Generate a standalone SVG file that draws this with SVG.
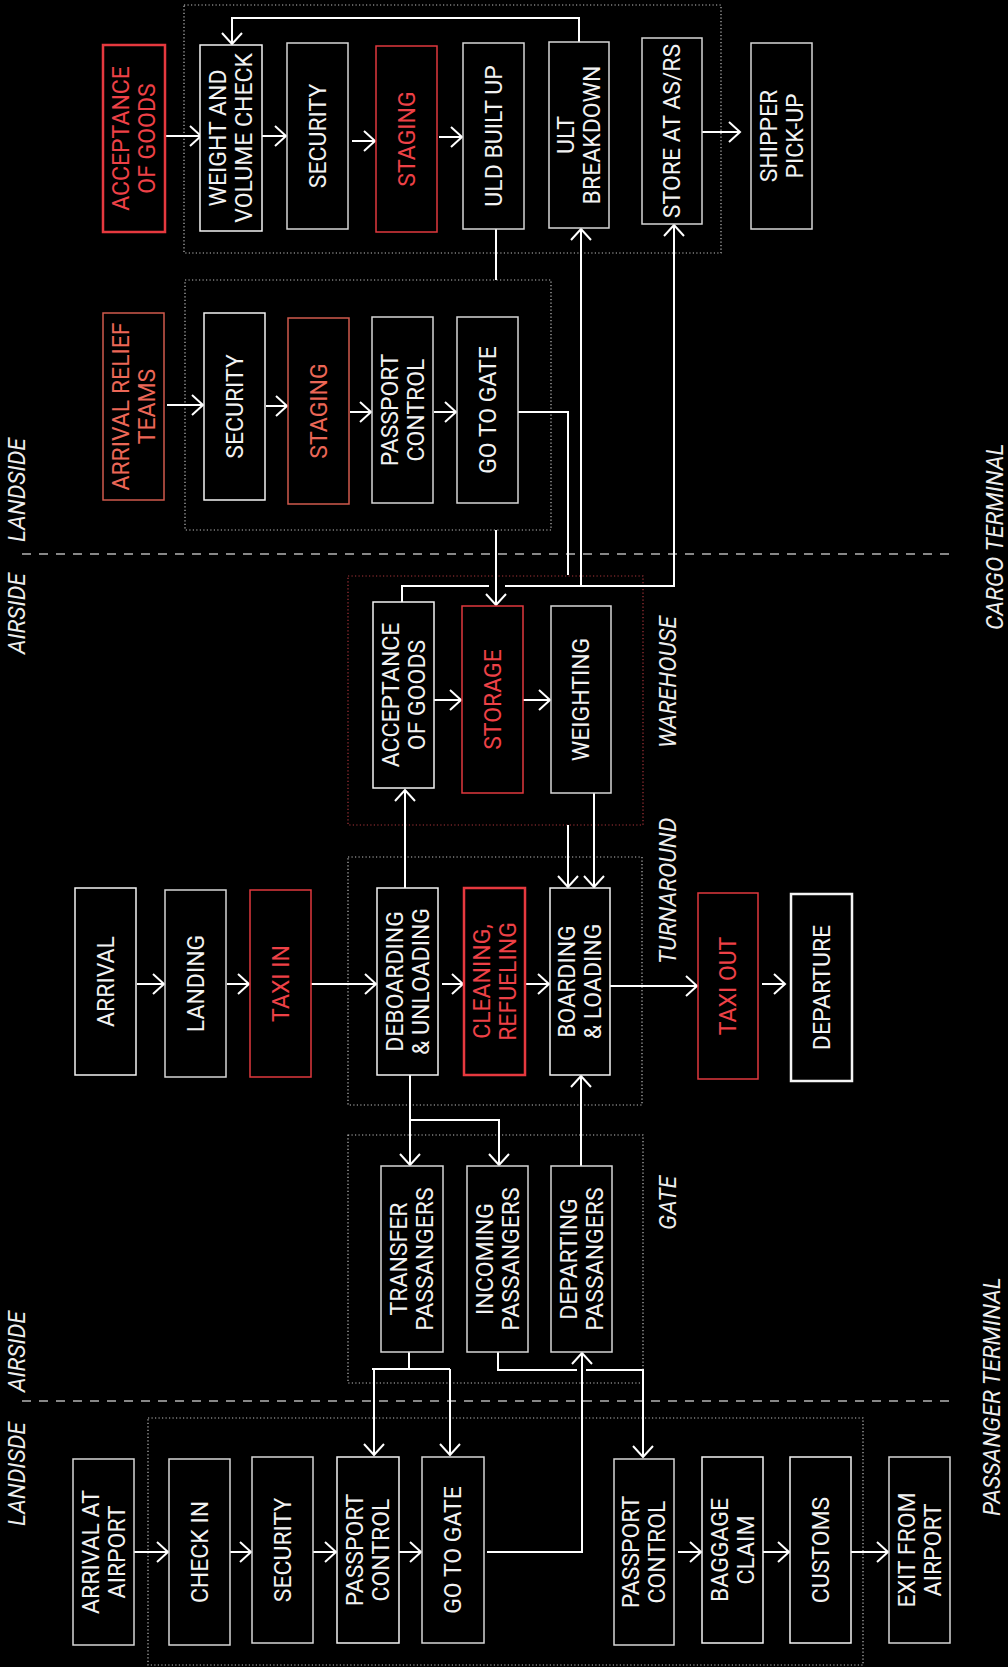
<svg xmlns="http://www.w3.org/2000/svg" width="1008" height="1667" viewBox="0 0 1008 1667">
<defs>
<style>
.bg{fill:#000}
rect.n{fill:#000;stroke:#d6d6d6;stroke-width:1.5}
rect.w{stroke:#f4f4f4}
rect.red{stroke:#e0383e}
rect.red2{stroke:#e6393f;stroke-width:2.5}
rect.sal{stroke:#cf5a4c}
rect.dep{stroke:#f4f4f4;stroke-width:2.5}
text{font-family:Roboto,"Liberation Sans",Arial,sans-serif;font-size:23px;fill:#f2f2f2;text-anchor:middle}
text.rt{fill:#ee4147}
text.st{fill:#ec6757}
text.lab{font-style:italic;font-size:23px;text-anchor:start;fill:#eeeeee}
.zone{fill:none;stroke:#bdbdbd;stroke-width:1.2;stroke-dasharray:1.2 2.3}
.zone.redz{stroke:#a8343a}
.c{fill:none;stroke:#fff;stroke-width:2}
.dash{fill:none;stroke:#b4b4b4;stroke-width:1.6;stroke-dasharray:9 8}
</style>
<marker id="ah" viewBox="-14 -12 16 24" refX="0" refY="0" markerWidth="16" markerHeight="24" markerUnits="userSpaceOnUse" orient="auto">
<path d="M-11,-10 L0,0 L-11,10" fill="none" stroke="#fff" stroke-width="2"/>
</marker>
</defs>
<rect class="bg" x="0" y="0" width="1008" height="1667"/>

<g id="zones">
<rect class="zone" x="184" y="5" width="537" height="248"/>
<rect class="zone" x="185" y="280" width="366" height="250"/>
<rect class="zone redz" x="348" y="576" width="295" height="249"/>
<rect class="zone" x="348" y="857" width="294" height="248"/>
<rect class="zone" x="348" y="1135" width="295" height="248"/>
<rect class="zone" x="148" y="1418" width="715" height="247"/>
<line class="dash" x1="22" y1="554" x2="950" y2="554"/>
<line class="dash" x1="22" y1="1401" x2="950" y2="1401"/>
</g>

<g id="labels">
<text class="lab" transform="translate(25,654) rotate(-90)">AIRSIDE</text>
<text class="lab" transform="translate(25,542) rotate(-90)">LANDSIDE</text>
<text class="lab" transform="translate(25,1392) rotate(-90)">AIRSIDE</text>
<text class="lab" transform="translate(25,1526) rotate(-90)">LANDISDE</text>
<text class="lab" transform="translate(1003,630) rotate(-90)">CARGO TERMINAL</text>
<text class="lab" transform="translate(1000,1516) rotate(-90)">PASSANGER TERMINAL</text>
<text class="lab" transform="translate(676,748) rotate(-90)">WAREHOUSE</text>
<text class="lab" transform="translate(676,964) rotate(-90)">TURNAROUND</text>
<text class="lab" transform="translate(676,1230) rotate(-90)">GATE</text>
</g>

<g id="connectors">
<path class="c" d="M165,136 H201" marker-end="url(#ah)"/>
<path class="c" d="M262,136 H286" marker-end="url(#ah)"/>
<path class="c" d="M352,141 H375" marker-end="url(#ah)"/>
<path class="c" d="M439,137 H462" marker-end="url(#ah)"/>
<path class="c" d="M702,132 H740" marker-end="url(#ah)"/>
<path class="c" d="M579,42 V18 H232 V44" marker-end="url(#ah)"/>
<path class="c" d="M496,229 V280"/>
<path class="c" d="M496,530 V605" marker-end="url(#ah)"/>
<path class="c" d="M167,405 H203" marker-end="url(#ah)"/>
<path class="c" d="M266,406 H287" marker-end="url(#ah)"/>
<path class="c" d="M350,412 H371" marker-end="url(#ah)"/>
<path class="c" d="M434,412 H456" marker-end="url(#ah)"/>
<path class="c" d="M518,412 H568 V575"/>
<path class="c" d="M568,825 V887" marker-end="url(#ah)"/>
<path class="c" d="M402,602 V586 H489"/>
<path class="c" d="M505,586 H674 V225" marker-end="url(#ah)"/>
<path class="c" d="M581,586 V229" marker-end="url(#ah)"/>
<path class="c" d="M434,700 H461" marker-end="url(#ah)"/>
<path class="c" d="M523,700 H550" marker-end="url(#ah)"/>
<path class="c" d="M594,793 V887" marker-end="url(#ah)"/>
<path class="c" d="M405,888 V790" marker-end="url(#ah)"/>
<path class="c" d="M137,984 H164" marker-end="url(#ah)"/>
<path class="c" d="M227,984 H249" marker-end="url(#ah)"/>
<path class="c" d="M309,984 H376" marker-end="url(#ah)"/>
<path class="c" d="M442,984 H463" marker-end="url(#ah)"/>
<path class="c" d="M525,984 H549" marker-end="url(#ah)"/>
<path class="c" d="M610,986 H697" marker-end="url(#ah)"/>
<path class="c" d="M762,984 H785" marker-end="url(#ah)"/>
<path class="c" d="M410,1075 V1165" marker-end="url(#ah)"/>
<path class="c" d="M410,1120 H499 V1165" marker-end="url(#ah)"/>
<path class="c" d="M581,1166 V1076" marker-end="url(#ah)"/>
<path class="c" d="M409,1352 V1369"/>
<path class="c" d="M372,1369 H450"/>
<path class="c" d="M374,1369 V1455" marker-end="url(#ah)"/>
<path class="c" d="M450,1369 V1455" marker-end="url(#ah)"/>
<path class="c" d="M498,1352 V1370 H577"/>
<path class="c" d="M586,1370 H643 V1457" marker-end="url(#ah)"/>
<path class="c" d="M487,1552 H582 V1353" marker-end="url(#ah)"/>
<path class="c" d="M132,1552 H168" marker-end="url(#ah)"/>
<path class="c" d="M230,1552 H251" marker-end="url(#ah)"/>
<path class="c" d="M313,1552 H336" marker-end="url(#ah)"/>
<path class="c" d="M399,1552 H421" marker-end="url(#ah)"/>
<path class="c" d="M678,1552 H701" marker-end="url(#ah)"/>
<path class="c" d="M763,1552 H789" marker-end="url(#ah)"/>
<path class="c" d="M851,1552 H888" marker-end="url(#ah)"/>
</g>

<g id="n-acceptance-cargo"><rect class="n red2" x="103" y="45" width="62" height="187"/><text class="rt" transform="translate(134,138.5) rotate(-90)"><tspan x="0" y="-5">ACCEPTANCE</tspan><tspan x="0" y="21">OF GOODS</tspan></text></g>
<g id="n-weight-volume"><rect class="n w" x="200" y="45" width="62" height="186"/><text transform="translate(231,138) rotate(-90)"><tspan x="0" y="-5">WEIGHT AND</tspan><tspan x="0" y="21">VOLUME CHECK</tspan></text></g>
<g id="n-security-cargo"><rect class="n" x="287" y="43" width="61" height="186"/><text transform="translate(317.5,136) rotate(-90)"><tspan x="0" y="8">SECURITY</tspan></text></g>
<g id="n-staging-cargo"><rect class="n red" x="376" y="46" width="61" height="186"/><text class="rt" transform="translate(406.5,139) rotate(-90)"><tspan x="0" y="8">STAGING</tspan></text></g>
<g id="n-uld-built-up"><rect class="n" x="463" y="43" width="61" height="186"/><text transform="translate(493.5,136) rotate(-90)"><tspan x="0" y="8">ULD BUILT UP</tspan></text></g>
<g id="n-ult-breakdown"><rect class="n" x="549" y="42" width="60" height="186"/><text transform="translate(579,135) rotate(-90)"><tspan x="0" y="-5">ULT</tspan><tspan x="0" y="21">BREAKDOWN</tspan></text></g>
<g id="n-store-asrs"><rect class="n" x="642" y="38" width="60" height="186"/><text transform="translate(672,131) rotate(-90)"><tspan x="0" y="8">STORE AT AS/RS</tspan></text></g>
<g id="n-shipper-pickup"><rect class="n" x="751" y="43" width="61" height="186"/><text transform="translate(781.5,136) rotate(-90)"><tspan x="0" y="-5">SHIPPER</tspan><tspan x="0" y="21">PICK-UP</tspan></text></g>

<g id="n-arrival-relief"><rect class="n sal" x="103" y="313" width="61" height="187"/><text class="st" transform="translate(133.5,406.5) rotate(-90)"><tspan x="0" y="-5">ARRIVAL RELIEF</tspan><tspan x="0" y="21">TEAMS</tspan></text></g>
<g id="n-security-relief"><rect class="n w" x="204" y="313" width="61" height="187"/><text transform="translate(234.5,406.5) rotate(-90)"><tspan x="0" y="8">SECURITY</tspan></text></g>
<g id="n-staging-relief"><rect class="n sal" x="288" y="318" width="61" height="186"/><text class="st" transform="translate(318.5,411) rotate(-90)"><tspan x="0" y="8">STAGING</tspan></text></g>
<g id="n-passport-relief"><rect class="n" x="372" y="317" width="61" height="186"/><text transform="translate(402.5,410) rotate(-90)"><tspan x="0" y="-5">PASSPORT</tspan><tspan x="0" y="21">CONTROL</tspan></text></g>
<g id="n-gotogate-relief"><rect class="n" x="457" y="317" width="61" height="186"/><text transform="translate(487.5,410) rotate(-90)"><tspan x="0" y="8">GO TO GATE</tspan></text></g>

<g id="n-acceptance-warehouse"><rect class="n w" x="373" y="602" width="61" height="186"/><text transform="translate(403.5,695) rotate(-90)"><tspan x="0" y="-5">ACCEPTANCE</tspan><tspan x="0" y="21">OF GOODS</tspan></text></g>
<g id="n-storage"><rect class="n red" x="462" y="606" width="61" height="187"/><text class="rt" transform="translate(492.5,699.5) rotate(-90)"><tspan x="0" y="8">STORAGE</tspan></text></g>
<g id="n-weighting"><rect class="n" x="551" y="606" width="60" height="187"/><text transform="translate(581,699.5) rotate(-90)"><tspan x="0" y="8">WEIGHTING</tspan></text></g>

<g id="n-arrival"><rect class="n w" x="75" y="888" width="61" height="187"/><text transform="translate(105.5,981.5) rotate(-90)"><tspan x="0" y="8">ARRIVAL</tspan></text></g>
<g id="n-landing"><rect class="n" x="165" y="890" width="61" height="187"/><text transform="translate(195.5,983.5) rotate(-90)"><tspan x="0" y="8">LANDING</tspan></text></g>
<g id="n-taxi-in"><rect class="n red" x="250" y="890" width="61" height="187"/><text class="rt" transform="translate(280.5,983.5) rotate(-90)"><tspan x="0" y="8">TAXI IN</tspan></text></g>
<g id="n-deboarding"><rect class="n w" x="377" y="888" width="61" height="187"/><text transform="translate(407.5,981.5) rotate(-90)"><tspan x="0" y="-5">DEBOARDING</tspan><tspan x="0" y="21">&amp; UNLOADING</tspan></text></g>
<g id="n-cleaning"><rect class="n red2" x="464" y="888" width="61" height="187"/><text class="rt" transform="translate(494.5,981.5) rotate(-90)"><tspan x="0" y="-5">CLEANING,</tspan><tspan x="0" y="21">REFUELING</tspan></text></g>
<g id="n-boarding"><rect class="n w" x="550" y="888" width="60" height="187"/><text transform="translate(580,981.5) rotate(-90)"><tspan x="0" y="-5">BOARDING</tspan><tspan x="0" y="21">&amp; LOADING</tspan></text></g>
<g id="n-taxi-out"><rect class="n red" x="698" y="893" width="60" height="186"/><text class="rt" transform="translate(728,986) rotate(-90)"><tspan x="0" y="8">TAXI OUT</tspan></text></g>
<g id="n-departure"><rect class="n dep" x="791" y="894" width="61" height="187"/><text transform="translate(821.5,987.5) rotate(-90)"><tspan x="0" y="8">DEPARTURE</tspan></text></g>

<g id="n-transfer"><rect class="n" x="381" y="1166" width="62" height="186"/><text transform="translate(412,1259) rotate(-90)"><tspan x="0" y="-5">TRANSFER</tspan><tspan x="0" y="21">PASSANGERS</tspan></text></g>
<g id="n-incoming"><rect class="n" x="467" y="1166" width="61" height="186"/><text transform="translate(497.5,1259) rotate(-90)"><tspan x="0" y="-5">INCOMING</tspan><tspan x="0" y="21">PASSANGERS</tspan></text></g>
<g id="n-departing"><rect class="n" x="551" y="1166" width="61" height="186"/><text transform="translate(581.5,1259) rotate(-90)"><tspan x="0" y="-5">DEPARTING</tspan><tspan x="0" y="21">PASSANGERS</tspan></text></g>

<g id="n-arrival-airport"><rect class="n" x="73" y="1459" width="61" height="186"/><text transform="translate(103.5,1552) rotate(-90)"><tspan x="0" y="-5">ARRIVAL AT</tspan><tspan x="0" y="21">AIRPORT</tspan></text></g>
<g id="n-check-in"><rect class="n" x="169" y="1459" width="61" height="186"/><text transform="translate(199.5,1552) rotate(-90)"><tspan x="0" y="8">CHECK IN</tspan></text></g>
<g id="n-security-pax"><rect class="n" x="252" y="1457" width="61" height="186"/><text transform="translate(282.5,1550) rotate(-90)"><tspan x="0" y="8">SECURITY</tspan></text></g>
<g id="n-passport-dep"><rect class="n w" x="337" y="1457" width="62" height="186"/><text transform="translate(368,1550) rotate(-90)"><tspan x="0" y="-5">PASSPORT</tspan><tspan x="0" y="21">CONTROL</tspan></text></g>
<g id="n-gotogate-pax"><rect class="n" x="422" y="1457" width="62" height="186"/><text transform="translate(453,1550) rotate(-90)"><tspan x="0" y="8">GO TO GATE</tspan></text></g>
<g id="n-passport-arr"><rect class="n" x="614" y="1459" width="60" height="186"/><text transform="translate(644,1552) rotate(-90)"><tspan x="0" y="-5">PASSPORT</tspan><tspan x="0" y="21">CONTROL</tspan></text></g>
<g id="n-baggage"><rect class="n w" x="702" y="1457" width="61" height="186"/><text transform="translate(732.5,1550) rotate(-90)"><tspan x="0" y="-5">BAGGAGE</tspan><tspan x="0" y="21">CLAIM</tspan></text></g>
<g id="n-customs"><rect class="n w" x="790" y="1457" width="61" height="186"/><text transform="translate(820.5,1550) rotate(-90)"><tspan x="0" y="8">CUSTOMS</tspan></text></g>
<g id="n-exit"><rect class="n" x="889" y="1457" width="61" height="186"/><text transform="translate(919.5,1550) rotate(-90)"><tspan x="0" y="-5">EXIT FROM</tspan><tspan x="0" y="21">AIRPORT</tspan></text></g>
</svg>
